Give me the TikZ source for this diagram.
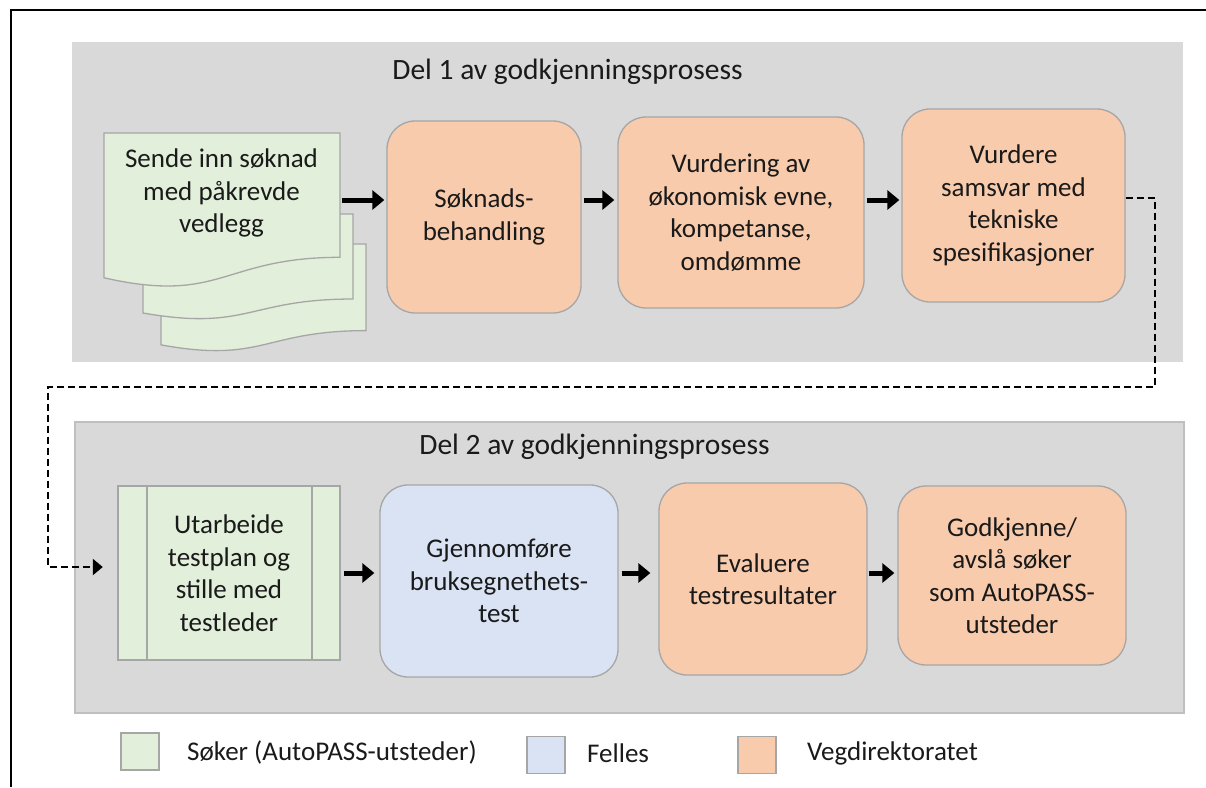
\documentclass[tikz,border=0pt]{standalone}
\usepackage{fontspec}
\setmainfont{Carlito}
\usetikzlibrary{arrows.meta}
\definecolor{bggray}{HTML}{D9D9D9}
\definecolor{grpline}{HTML}{BFBFBF}
\definecolor{boxline}{HTML}{A6A6A6}
\definecolor{orangefill}{HTML}{F8CBAD}
\definecolor{greenfill}{HTML}{E2EFDA}
\definecolor{bluefill}{HTML}{DAE3F3}
\definecolor{txt}{HTML}{1A1A1A}
\newcommand\docshape[4]{%
  \filldraw[docstyle] (#1,#3) -- (#2,#3) -- (#2,{#3+0.802*#4})
    .. controls ({(#1+#2)/2},{#3+0.802*#4}) and ({(#1+#2)/2},{#3+1.107*#4}) ..
    (#1,{#3+0.934*#4}) -- cycle;}
\tikzset{
  bigfont/.style={font=\fontsize{27}{32.5}\selectfont, text=txt},
  procbox/.style={draw=boxline, line width=1.3pt, rounded corners=28pt,
    align=center, inner sep=0pt, bigfont},
  orangebox/.style={procbox, fill=orangefill},
  bluebox/.style={procbox, fill=bluefill},
  docstyle/.style={draw=boxline, fill=greenfill, line width=1.3pt},
  flowarrow/.style={line width=5pt, -{Triangle[length=12pt,width=19pt]}},
  dasharrow/.style={line width=2.2pt, dash pattern=on 7pt off 4pt,
    -{Triangle[length=10pt,width=16pt]}},
  legbox/.style={draw=boxline, line width=1.3pt, minimum width=38pt,
    minimum height=37pt, inner sep=0pt},
  legtext/.style={bigfont, anchor=west, inner sep=0pt},
  title/.style={font=\fontsize{29.5}{35}\selectfont, text=txt, inner sep=0pt}
}
\begin{document}
\begin{tikzpicture}[x=1pt,y=-1pt]
\useasboundingbox (0,0) rectangle (1206,787);
% frame
\draw[line width=2.2pt, black] (1206,10) -- (11,10) -- (11,787);
% groups
\fill[bggray] (72,42) rectangle (1183,362);
\filldraw[fill=bggray, draw=grpline, line width=1.5pt] (75,422) rectangle (1184,713);
\node[title] (t1) at (567.5,72) {Del 1 av godkjenningsprosess};
\node[title] (t2) at (594.5,447) {Del 2 av godkjenningsprosess};
% multi-document
\docshape{161}{366}{244}{108}
\docshape{143}{353}{214}{106}
\docshape{104}{340}{133}{155}
\node[bigfont, align=center, inner sep=0pt] (doc) at (221.5,193) {Sende inn søknad\\med påkrevde\\vedlegg};
\coordinate (docout) at (342,200);
% row 1
\node[orangebox, minimum width=194pt, minimum height=192pt] (b1) at (484,217) {Søknads-\\behandling};
\node[orangebox, minimum width=246pt, minimum height=191pt] (b2) at (741,212.5) {Vurdering av\\økonomisk evne,\\kompetanse,\\omdømme};
\node[orangebox, minimum width=223pt, minimum height=193pt] (b3) at (1013.5,205.5) {Vurdere\\samsvar med\\tekniske\\spesifikasjoner};
\coordinate (row1) at (0,200);
\draw[flowarrow] (docout) -- ([xshift=-2pt]b1.west |- row1);
\draw[flowarrow] ([xshift=2pt]b1.east |- row1) -- ([xshift=-3pt]b2.west |- row1);
\draw[flowarrow] ([xshift=2pt]b2.east |- row1) -- ([xshift=-2pt]b3.west |- row1);
% row 2
\filldraw[docstyle] (118,486) rectangle (340,660);
\draw[draw=boxline, line width=1.3pt] (147,486) -- (147,660) (312,486) -- (312,660);
\node[bigfont, align=center, inner sep=0pt, minimum width=222pt, minimum height=174pt] (c1) at (229,573) {Utarbeide\\testplan og\\stille med\\testleder};
\node[bluebox, minimum width=238pt, minimum height=192pt] (c2) at (499,581) {Gjennomføre\\bruksegnethets-\\test};
\node[orangebox, minimum width=208pt, minimum height=192pt] (c3) at (763,579) {Evaluere\\testresultater};
\node[orangebox, minimum width=228pt, minimum height=179pt] (c4) at (1012,575.5) {Godkjenne/\\avslå søker\\som AutoPASS-\\utsteder};
\coordinate (row2) at (0,573);
\draw[flowarrow] ([xshift=4pt]c1.east |- row2) -- ([xshift=-5pt]c2.west |- row2);
\draw[flowarrow] ([xshift=3pt]c2.east |- row2) -- ([xshift=-8pt]c3.west |- row2);
\draw[flowarrow] ([xshift=1pt]c3.east |- row2) -- ([xshift=-3pt]c4.west |- row2);
% dashed connector
\coordinate (d0) at (1125,198);
\coordinate (d1) at (1155,198);
\coordinate (d2) at (1155,387);
\coordinate (d3) at (48,387);
\coordinate (d4) at (48,567);
\draw[dasharrow] (b3.east |- d0) -- (d1) -- (d2) -- (d3) -- (d4) -- ([xshift=-15pt]c1.west |- d4);
% legend
\node[legbox, fill=greenfill] (lg1) at (140,751.5) {};
\node[legtext] (lt1) at (187,752) {Søker (AutoPASS-utsteder)};
\node[legbox, fill=bluefill] (lg2) at (546,755) {};
\node[legtext] (lt2) at (587,753) {Felles};
\node[legbox, fill=orangefill] (lg3) at (757,755) {};
\node[legtext] (lt3) at (807,753) {Vegdirektoratet};
\end{tikzpicture}
\end{document}
